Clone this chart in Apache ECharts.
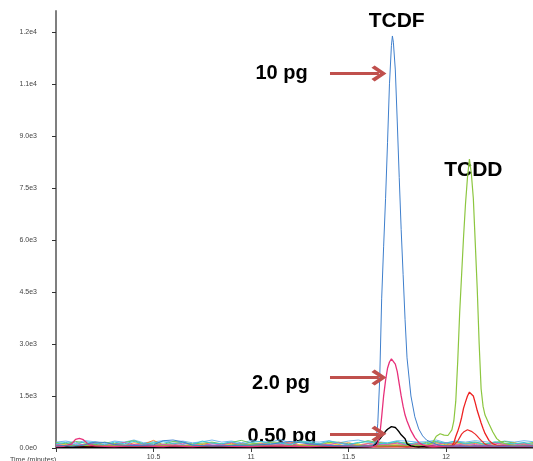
<!DOCTYPE html>
<html>
<head>
<meta charset="utf-8">
<script src="https://cdn.jsdelivr.net/npm/echarts@6/dist/echarts.min.js"></script>
<style>html,body{margin:0;padding:0;background:#fff}#c{width:533px;height:461px}</style>
</head>
<body>
<div id="c"></div>
<script>
// ---- Y tick labels ----
const yTickValues = [0, 1500, 3000, 4500, 6000, 7500, 9000, 10500, 12000];
const yTickLabels = ['0.0e0', '1.5e3', '3.0e3', '4.5e3', '6.0e3', '7.5e3', '9.0e3', '1.1e4', '1.2e4'];
const xTickValues = [10, 10.5, 11, 11.5, 12];
const xTickLabels = ['10.5', '11', '11.5', '12'];
const xLabelValues = [10.5, 11, 11.5, 12];

// ---- TCDF traces (blue 10 pg, pink 2.0 pg, black 0.50 pg) ----
const tcdfTimes = [10.00, 10.04, 10.08, 10.10, 10.12, 10.14, 10.17, 10.20, 10.25, 10.30, 10.40, 10.50, 10.55, 10.60, 10.65, 10.70, 10.80, 10.90, 11.00, 11.10, 11.20, 11.30, 11.40, 11.50, 11.55, 11.60,
  11.62, 11.64, 11.65, 11.66, 11.67, 11.68, 11.69, 11.70, 11.71, 11.72, 11.725, 11.73, 11.74, 11.75, 11.76, 11.77, 11.78, 11.79, 11.80, 11.82, 11.84, 11.86, 11.88, 11.90, 11.93, 11.96, 12.00, 12.10, 12.20, 12.30, 12.40, 12.446];
const tcdf10pg = [60, 70, 50, 60, 70, 80, 130, 170, 160, 100, 70, 90, 210, 230, 180, 80, 60, 70, 80, 110, 190, 120, 70, 60, 50, 60,
  60, 150, 700, 2000, 4300, 5800, 7200, 8800, 10500, 11600, 11880, 11700, 10900, 9400, 7800, 6300, 5000, 3700, 2600, 1500, 900, 550, 350, 230, 150, 90, 60, 50, 60, 50, 60, 50];
const tcdf2pg = [40, 50, 120, 250, 280, 240, 90, 60, 50, 40, 60, 50, 40, 60, 50, 40, 70, 50, 40, 60, 50, 40, 60, 50, 40, 50,
  40, 60, 120, 350, 900, 1500, 1950, 2300, 2480, 2570, 2580, 2550, 2420, 2200, 1850, 1500, 1200, 950, 780, 500, 300, 160, 90, 60, 40, 50, 40, 50, 40, 50, 40, 50];
const tcdf05pg = [20, 30, 20, 30, 20, 30, 20, 30, 20, 30, 20, 30, 20, 30, 20, 30, 20, 30, 20, 30, 20, 30, 20, 30, 20, 30,
  40, 120, 200, 260, 330, 410, 480, 540, 590, 615, 625, 620, 590, 530, 460, 380, 330, 270, 120, 60, 40, 30, 40, 30, 40, 30, 20, 30, 20, 30, 20, 30];

// ---- TCDD traces (green 10 pg, red 2.0 pg, red 0.50 pg) ----
const tcddTimes = [10.00, 10.20, 10.40, 10.60, 10.80, 11.00, 11.20, 11.40, 11.60, 11.80,
  11.90, 11.93, 11.95, 11.97, 11.99, 12.01, 12.02, 12.03, 12.04, 12.05, 12.06, 12.07, 12.08, 12.09, 12.10, 12.11, 12.12, 12.13, 12.14, 12.15, 12.16, 12.17, 12.18, 12.19, 12.20, 12.22, 12.24, 12.26, 12.28, 12.30, 12.33, 12.36, 12.40, 12.446];
const tcdd10pg = [60, 80, 50, 70, 60, 90, 60, 70, 60, 70,
  80, 140, 340, 410, 370, 360, 400, 520, 780, 1350, 2500, 3900, 5000, 6100, 7050, 7800, 8330, 7900, 7200, 5900, 4600, 3000, 1700, 1200, 950, 700, 460, 270, 180, 130, 90, 70, 60, 50];
const tcdd2pg = [50, 40, 60, 50, 40, 60, 50, 40, 60, 50,
  40, 50, 40, 60, 50, 40, 50, 70, 150, 330, 480, 660, 880, 1150, 1330, 1500, 1610, 1600, 1500, 1300, 1080, 900, 720, 560, 420, 220, 120, 80, 60, 50, 40, 50, 40, 50];
const tcdd05pg = [30, 40, 30, 40, 30, 40, 30, 40, 30, 40,
  30, 40, 30, 40, 30, 40, 30, 40, 80, 140, 200, 300, 400, 460, 500, 525, 510, 480, 455, 400, 340, 280, 220, 170, 110, 60, 40, 30, 40, 30, 40, 30, 40, 30];

// ---- baseline noise traces ----
const noiseTimes = [10.00, 10.05, 10.10, 10.15, 10.20, 10.25, 10.30, 10.35, 10.40, 10.45, 10.50, 10.55, 10.60, 10.65, 10.70, 10.75, 10.80, 10.85, 10.90, 10.95,
  11.00, 11.05, 11.10, 11.15, 11.20, 11.25, 11.30, 11.35, 11.40, 11.45, 11.50, 11.55, 11.60, 11.65, 11.70, 11.75, 11.80, 11.85, 11.90, 11.95,
  12.00, 12.05, 12.10, 12.15, 12.20, 12.25, 12.30, 12.35, 12.40, 12.45];
const noiseCyan = [120, 160, 100, 180, 140, 90, 170, 120, 190, 110, 150, 180, 120, 160, 100, 200, 140, 120, 180, 100, 160, 190, 120, 140, 100, 180, 160, 120, 200, 140, 100, 160, 180, 120, 140, 190, 100, 160, 120, 180, 140, 200, 120, 160, 100, 180, 140, 120, 160, 100];
const noisePurple = [50, 30, 70, 50, 90, 30, 50, 70, 30, 90, 50, 30, 70, 50, 30, 90, 70, 50, 30, 70, 50, 90, 30, 50, 70, 30, 50, 90, 70, 30, 50, 70, 30, 50, 90, 70, 30, 50, 70, 50, 30, 90, 50, 70, 30, 50, 70, 30, 50, 70];
const noiseOrange = [90, 140, 70, 110, 160, 90, 130, 70, 150, 110, 220, 90, 130, 160, 70, 110, 150, 90, 130, 110, 160, 90, 150, 110, 180, 90, 130, 70, 160, 110, 150, 90, 130, 160, 110, 150, 70, 130, 110, 160, 90, 150, 110, 130, 90, 160, 110, 150, 90, 130];
const noiseYellow = [70, 110, 50, 90, 130, 70, 110, 90, 50, 130, 70, 110, 90, 150, 70, 110, 50, 130, 90, 70, 110, 150, 90, 70, 130, 90, 110, 70, 130, 90, 50, 110, 70, 130, 90, 110, 150, 70, 90, 130, 70, 110, 90, 50, 130, 70, 110, 90, 70, 110];
const noiseGreen = [160, 120, 190, 140, 100, 170, 120, 160, 210, 120, 140, 100, 190, 160, 120, 140, 170, 120, 160, 220, 140, 120, 170, 160, 100, 190, 140, 120, 160, 170, 120, 140, 210, 160, 120, 170, 140, 100, 160, 190, 120, 160, 140, 170, 120, 160, 190, 140, 120, 160];
const noiseMagenta = [100, 70, 120, 90, 140, 70, 100, 160, 90, 120, 70, 100, 90, 140, 100, 70, 120, 90, 160, 100, 70, 120, 100, 90, 140, 70, 100, 120, 90, 160, 100, 70, 120, 90, 100, 140, 90, 120, 70, 100, 160, 90, 120, 100, 70, 140, 100, 90, 120, 70];
const noiseLightBlue = [170, 200, 150, 210, 180, 130, 200, 170, 230, 150, 180, 210, 170, 200, 150, 180, 230, 170, 200, 150, 210, 180, 170, 240, 150, 200, 180, 170, 210, 150, 200, 230, 170, 180, 150, 210, 200, 170, 180, 230, 150, 200, 170, 210, 180, 150, 200, 170, 210, 180];
const noiseGray = [20, 35, 20, 30, 35, 20, 30, 35, 20, 35, 30, 20, 35, 20, 30, 35, 20, 30, 35, 20, 35, 30, 20, 35, 30, 20, 35, 30, 20, 35, 20, 30, 35, 20, 30, 35, 20, 35, 30, 20, 35, 20, 30, 35, 20, 30, 35, 20, 30, 35];
const noiseDarkBlue = [60, 90, 50, 80, 110, 60, 90, 70, 100, 60, 80, 110, 70, 90, 60, 100, 80, 60, 90, 120, 70, 90, 60, 100, 80, 60, 110, 70, 90, 60, 100, 80, 70, 110, 60, 90, 80, 100, 60, 90, 70, 110, 80, 60, 100, 70, 90, 60, 80, 100];
const noiseRed = [40, 60, 30, 70, 50, 40, 60, 30, 80, 50, 40, 70, 50, 30, 60, 80, 40, 50, 70, 30, 60, 50, 80, 40, 60, 30, 70, 50, 40, 80, 60, 30, 50, 70, 40, 60, 30, 80, 50, 40, 70, 60, 30, 50, 80, 40, 60, 30, 70, 50];

// ---- annotations ----
const arrowStartTime = 11.405;
const arrowEndTime = 11.656;
const arrowLevels = [10800, 2030, 410];
const amountLabels = ['10 pg', '2.0 pg', '0.50 pg'];
const compoundLabels = ['TCDF', 'TCDD'];

function pairs(ts, vs) {
  const n = Math.min(ts.length, vs.length);
  const out = [];
  for (let i = 0; i < n; i++) out.push([ts[i], vs[i]]);
  return out;
}
function line(name, ts, vs, color, width, extra) {
  return Object.assign({
    name: name, type: 'line', data: pairs(ts, vs), showSymbol: false, symbol: 'none',
    lineStyle: { color: color, width: width }, itemStyle: { color: color }, animation: false, silent: true
  }, extra || {});
}

const chevron = 'path://M10,0 L20,11 L17,14 L10,6 L3,14 L0,11 Z';
const arrowColor = '#c0504d';

const series = [
  line('n-gray', noiseTimes, noiseGray, '#9a9a9a', 1),
  line('n-lightblue', noiseTimes, noiseLightBlue, '#6fb6ee', 1),
  line('n-purple', noiseTimes, noisePurple, '#8a5cc8', 1),
  line('n-darkblue', noiseTimes, noiseDarkBlue, '#2f4fc0', 1),
  line('n-orange', noiseTimes, noiseOrange, '#f08a30', 1),
  line('n-yellow', noiseTimes, noiseYellow, '#eed83a', 1),
  line('n-red', noiseTimes, noiseRed, '#e04848', 1),
  line('n-green', noiseTimes, noiseGreen, '#6cc85a', 1),
  line('n-magenta', noiseTimes, noiseMagenta, '#d458c0', 1),
  line('n-cyan', noiseTimes, noiseCyan, '#3cc6da', 1),
  line('TCDD 0.50 pg', tcddTimes, tcdd05pg, '#ec2a2a', 1.2),
  line('TCDD 2.0 pg', tcddTimes, tcdd2pg, '#ee2222', 1.3),
  line('TCDD 10 pg', tcddTimes, tcdd10pg, '#8cc63f', 1.2),
  line('TCDF 0.50 pg', tcdfTimes, tcdf05pg, '#000000', 1.4, {
    markLine: {
      silent: true, animation: false,
      symbol: ['none', chevron], symbolSize: [16, 15],
      lineStyle: { color: arrowColor, width: 3, type: 'solid' },
      label: { show: false }, emphasis: { disabled: true },
      data: arrowLevels.map(v => [{ coord: [arrowStartTime, v] }, { coord: [arrowEndTime, v] }])
    }
  }),
  line('TCDF 2.0 pg', tcdfTimes, tcdf2pg, '#e8307a', 1.3),
  line('TCDF 10 pg', tcdfTimes, tcdf10pg, '#3f7fcc', 1)
];

const chart = echarts.init(document.getElementById('c'), null, { renderer: 'canvas' });
const font = '"Liberation Sans", Arial, sans-serif';
const option = {
  animation: false,
  backgroundColor: '#ffffff',
  grid: { left: 56, right: 0, top: 11, bottom: 10, containLabel: false },
  xAxis: {
    type: 'value', min: 10, max: 12.446, interval: 0.5,
    splitLine: { show: false },
    axisLine: { show: true, onZero: false, lineStyle: { color: '#8c8c8c', width: 1 } },
    axisTick: { show: true, length: 4, lineStyle: { color: '#404040' }, customValues: xTickValues },
    axisLabel: {
      show: true, margin: 6, fontSize: 7, color: '#444', fontFamily: font,
      customValues: xLabelValues,
      formatter: v => { const i = xLabelValues.indexOf(v); return i >= 0 ? xTickLabels[i] : ''; }
    }
  },
  yAxis: {
    type: 'value', min: 0, max: 12600, interval: 1500,
    splitLine: { show: false },
    axisLine: { show: true, lineStyle: { color: '#7f7f7f', width: 2 } },
    axisTick: { show: true, length: 4, lineStyle: { color: '#303030' }, customValues: yTickValues },
    axisLabel: {
      show: true, margin: 19, fontSize: 7, color: '#444', fontFamily: font,
      customValues: yTickValues,
      formatter: v => { const i = yTickValues.indexOf(v); return i >= 0 ? yTickLabels[i] : ''; }
    }
  },
  graphic: [
    { type: 'text', left: 10, top: 457, style: { text: 'Time (minutes)', fontSize: 7, fill: '#444', font: '7px ' + font } },
    { type: 'text', x: 396.7, y: 21.3, style: { text: compoundLabels[0], font: 'bold 21px ' + font, fill: '#000', textAlign: 'center', textVerticalAlign: 'middle' } },
    { type: 'text', x: 473.3, y: 170.7, style: { text: compoundLabels[1], font: 'bold 21px ' + font, fill: '#000', textAlign: 'center', textVerticalAlign: 'middle' } },
    { type: 'text', x: 281.5, y: 73, style: { text: amountLabels[0], font: 'bold 20px ' + font, fill: '#000', textAlign: 'center', textVerticalAlign: 'middle' } },
    { type: 'text', x: 281, y: 383, style: { text: amountLabels[1], font: 'bold 20px ' + font, fill: '#000', textAlign: 'center', textVerticalAlign: 'middle' } },
    { type: 'text', x: 282, y: 436, style: { text: amountLabels[2], font: 'bold 20px ' + font, fill: '#000', textAlign: 'center', textVerticalAlign: 'middle' } }
  ],
  series: series
};
chart.setOption(option);
</script>
</body>
</html>
